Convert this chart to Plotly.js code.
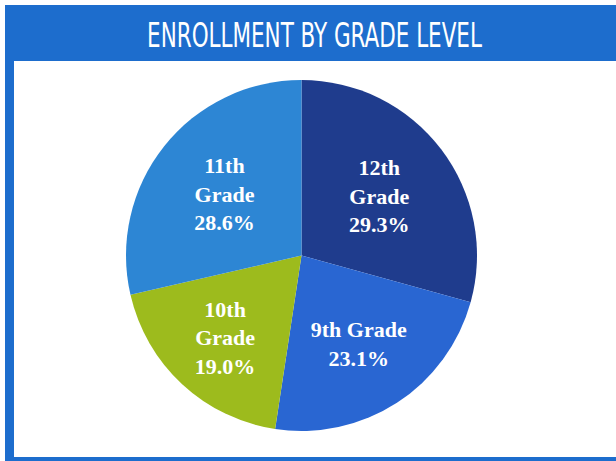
<!DOCTYPE html>
<html>
<head>
<meta charset="utf-8">
<script src="https://cdn.plot.ly/plotly-3.0.1.min.js"></script>
<style>
html,body{margin:0;padding:0;background:#fff;}
#chart{width:616px;height:461px;}
</style>
</head>
<body>
<div id="chart"></div>
<script>
// Data
var grades = ["12th Grade", "9th Grade", "10th Grade", "11th Grade"];
var gradeLabels = ["12th<br>Grade", "9th Grade", "10th<br>Grade", "11th<br>Grade"];
var percents = [29.3, 23.1, 19.0, 28.6];
var sliceColors = ["#1f3c8d", "#2966d2", "#9dbb1d", "#2d86d4"];
var chartTitle = "ENROLLMENT BY GRADE LEVEL";

var W = 616, H = 461;
function px(x){ return x / W; }
function py(y){ return 1 - y / H; }

var frameBlue = "#1d6dcd";

var trace = {
  type: "pie",
  values: percents,
  labels: grades,
  text: gradeLabels,
  texttemplate: "<b>%{text}<br>%{value:.1f}%</b>",
  textinfo: "text",
  textposition: "inside",
  insidetextorientation: "horizontal",
  insidetextfont: {family: "Liberation Serif, DejaVu Serif, serif", size: 22, color: "#ffffff"},
  marker: {colors: sliceColors, line: {width: 0}},
  sort: false,
  direction: "clockwise",
  rotation: 0,
  hoverinfo: "none",
  domain: {x: [px(126), px(477)], y: [py(431), py(80)]}
};

var layout = {
  width: W,
  height: H,
  margin: {l: 0, r: 0, t: 0, b: 0},
  paper_bgcolor: "#ffffff",
  showlegend: false,
  title: {
    text: chartTitle,
    x: px(314.5), xanchor: "center",
    y: py(35), yanchor: "middle", yref: "container",
    font: {family: "DejaVu Sans Condensed, Liberation Sans Narrow, sans-serif", size: 26, color: "#ffffff"}
  },
  shapes: [
    {type: "rect", xref: "paper", yref: "paper", layer: "below",
     x0: px(5), x1: px(616), y0: py(461), y1: py(5),
     fillcolor: frameBlue, line: {width: 0}},
    {type: "rect", xref: "paper", yref: "paper", layer: "below",
     x0: px(14), x1: px(616), y0: py(457), y1: py(61),
     fillcolor: "#ffffff", line: {width: 0}}
  ]
};

function stretchTitle(){
  var t = document.querySelector("#chart .gtitle");
  if(!t) return;
  t.removeAttribute("transform");
  var bb = t.getBBox();
  var targetW = 335, targetCx = 314.5, targetCy = 35;
  var sx = targetW / bb.width;
  var sy = 1.3;
  var cx = bb.x + bb.width / 2, cy = bb.y + bb.height / 2;
  t.setAttribute("transform",
    "translate(" + targetCx + "," + targetCy + ") scale(" + sx + "," + sy + ") translate(" + (-cx) + "," + (-cy) + ")");
}

Plotly.newPlot("chart", [trace], layout, {displayModeBar: false, staticPlot: true}).then(stretchTitle);
</script>
</body>
</html>
